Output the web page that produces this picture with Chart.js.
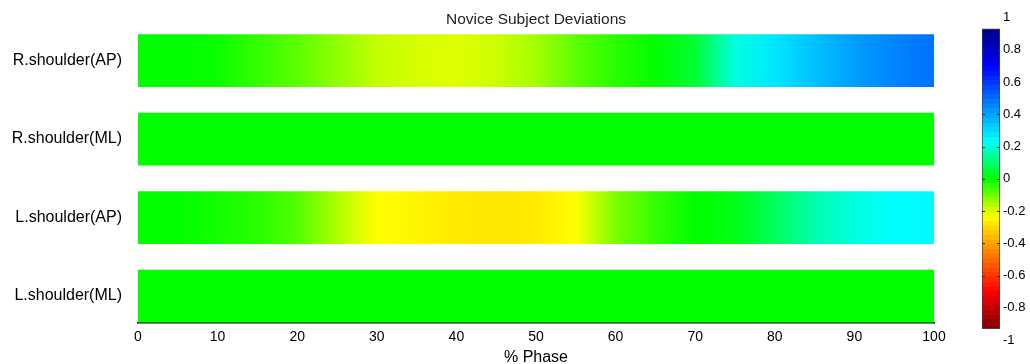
<!DOCTYPE html>
<html>
<head>
<meta charset="utf-8">
<script src="https://cdn.jsdelivr.net/npm/chart.js@4/dist/chart.umd.min.js"></script>
<style>
  body { margin: 0; background: #fff; overflow: hidden; }
  #heat { position: absolute; left: 0; top: 0; }
  #cbar { position: absolute; left: 970px; top: 0; }
</style>
</head>
<body>
<canvas id="heat" width="960" height="364"></canvas>
<canvas id="cbar" width="60" height="364"></canvas>
<script>
const rowLabels = ["R.shoulder(AP)", "R.shoulder(ML)", "L.shoulder(AP)", "L.shoulder(ML)"];

// % phase sample points (columns of the heat map)
const phase = [0, 5, 10, 15, 20, 25, 30, 35, 40, 45, 50, 55, 60, 65, 70, 75, 80, 85, 90, 95, 100];

// deviation values, one per phase point
const rShoulderAP = [0, 0, -0.01, -0.05, -0.09, -0.14, -0.19, -0.21, -0.22, -0.2, -0.16, -0.09, -0.04, 0, 0.05, 0.22, 0.3, 0.37, 0.44, 0.49, 0.53];
const rShoulderML = [0, 0, 0, 0, 0, 0, 0, 0, 0, 0, 0, 0, 0, 0, 0, 0, 0, 0, 0, 0, 0];
const lShoulderAP = [0, 0, -0.02, -0.04, -0.08, -0.17, -0.25, -0.27, -0.29, -0.3, -0.29, -0.25, -0.12, -0.05, 0, 0.02, 0.09, 0.17, 0.22, 0.25, 0.26];
const lShoulderML = [0, 0, 0, 0, 0, 0, 0, 0, 0, 0, 0, 0, 0, 0, 0, 0, 0, 0, 0, 0, 0];

const rows = [rShoulderAP, rShoulderML, lShoulderAP, lShoulderML];

const cbarTicks = [-1, -0.8, -0.6, -0.4, -0.2, 0, 0.2, 0.4, 0.6, 0.8, 1];

// colour map: value -> rgb
const cmapStops = [
  [-1, [128, 0, 0]],
  [-0.75, [255, 0, 0]],
  [-0.25, [255, 255, 0]],
  [0, [0, 255, 0]],
  [0.25, [0, 255, 255]],
  [0.75, [0, 0, 255]],
  [1, [0, 0, 128]],
];

function colormap(v) {
  v = Math.max(-1, Math.min(1, v));
  for (let i = 1; i < cmapStops.length; i++) {
    const [v0, c0] = cmapStops[i - 1];
    const [v1, c1] = cmapStops[i];
    if (v <= v1) {
      const t = (v - v0) / (v1 - v0);
      const c = c0.map((a, k) => Math.round(a + (c1[k] - a) * t));
      return "rgb(" + c.join(",") + ")";
    }
  }
  return "rgb(0,0,128)";
}

Chart.defaults.font.family = '"Liberation Sans", Arial, sans-serif';
Chart.defaults.color = "#000";

function rowGradient(ctx) {
  const chart = ctx.chart;
  if (!chart.chartArea) return "#0f0";
  const x = chart.scales.x;
  const x0 = x.getPixelForValue(phase[0]);
  const x1 = x.getPixelForValue(phase[phase.length - 1]);
  const g = chart.ctx.createLinearGradient(x0, 0, x1, 0);
  const vals = rows[ctx.dataIndex];
  phase.forEach((p, i) => {
    g.addColorStop((x.getPixelForValue(p) - x0) / (x1 - x0), colormap(vals[i]));
  });
  return g;
}

new Chart(document.getElementById("heat"), {
  type: "bar",
  data: {
    datasets: [
      {
        data: rowLabels.map((_, i) => ({ y: i + 1, x: [phase[0], phase[phase.length - 1]] })),
        backgroundColor: rowGradient,
        borderWidth: 0,
        barThickness: 52,
      },
    ],
  },
  options: {
    indexAxis: "y",
    responsive: false,
    animation: false,
    layout: { padding: { right: 26 } },
    plugins: {
      legend: { display: false },
      tooltip: { enabled: false },
      title: {
        display: true,
        fullSize: false,
        text: "Novice Subject Deviations",
        color: "#222",
        font: { size: 15.5, weight: "normal" },
        padding: { top: 10, bottom: 0 },
      },
    },
    scales: {
      x: {
        type: "linear",
        min: 0,
        max: 100,
        ticks: { stepSize: 10, padding: 6, color: "#000", font: { size: 14 } },
        grid: { display: false, drawTicks: false },
        border: { color: "#000", width: 1.5 },
        title: {
          display: true,
          text: "% Phase",
          color: "#000",
          font: { size: 16 },
          padding: { top: -4, bottom: -3 },
        },
      },
      y: {
        type: "linear",
        reverse: true,
        offset: false,
        min: 0.593,
        max: 4.343,
        afterBuildTicks: (s) => {
          s.ticks = rowLabels.map((_, i) => ({ value: i + 1 }));
        },
        afterFit: (s) => {
          s.width = 138;
        },
        ticks: {
          callback: (v) => rowLabels[v - 1],
          padding: 16,
          color: "#000",
          font: { size: 16 },
        },
        grid: { display: false, drawTicks: false },
        border: { display: false },
      },
    },
  },
});

// colour bar
const cbarLow = -0.93;
const cbarHigh = 0.93;
const cbarLevels = 64;

function cbarGradient(ctx) {
  const chart = ctx.chart;
  if (!chart.chartArea) return "#0f0";
  const y = chart.scales.y;
  const g = chart.ctx.createLinearGradient(0, y.getPixelForValue(cbarHigh), 0, y.getPixelForValue(cbarLow));
  for (let k = 0; k < cbarLevels; k++) {
    const c = colormap(1 - ((k + 0.5) * 2) / cbarLevels);
    g.addColorStop(k / cbarLevels, c);
    g.addColorStop((k + 1) / cbarLevels, c);
  }
  return g;
}

const cbarTickMarks = {
  id: "cbarTickMarks",
  afterDatasetsDraw(chart) {
    const { ctx, chartArea } = chart;
    const y = chart.scales.y;
    ctx.save();
    ctx.strokeStyle = "#333";
    ctx.lineWidth = 1;
    cbarTicks.forEach((t) => {
      if (t < cbarLow || t > cbarHigh) return;
      const py = Math.round(y.getPixelForValue(t)) + 0.5;
      ctx.beginPath();
      ctx.moveTo(chartArea.left, py);
      ctx.lineTo(chartArea.left + 3, py);
      ctx.moveTo(chartArea.right - 3, py);
      ctx.lineTo(chartArea.right, py);
      ctx.stroke();
    });
    ctx.restore();
  },
};

new Chart(document.getElementById("cbar"), {
  type: "bar",
  data: {
    labels: [""],
    datasets: [
      {
        data: [[cbarLow, cbarHigh]],
        backgroundColor: cbarGradient,
        borderColor: "#444",
        borderWidth: 1,
        borderSkipped: false,
        barPercentage: 1,
        categoryPercentage: 1,
      },
    ],
  },
  options: {
    responsive: false,
    animation: false,
    layout: { padding: { left: 12, top: 17.5, bottom: 24 } },
    plugins: { legend: { display: false }, tooltip: { enabled: false } },
    scales: {
      x: { display: false },
      y: {
        position: "right",
        min: -1,
        max: 1,
        afterBuildTicks: (s) => {
          s.ticks = cbarTicks.map((v) => ({ value: v }));
        },
        afterFit: (s) => {
          s.width = 30;
        },
        ticks: {
          padding: 3,
          color: "#000",
          font: { size: 13 },
          callback: (v) => String(+v.toFixed(1)),
        },
        grid: { display: false, drawTicks: false },
        border: { display: false },
      },
    },
  },
  plugins: [cbarTickMarks],
});
</script>
</body>
</html>
